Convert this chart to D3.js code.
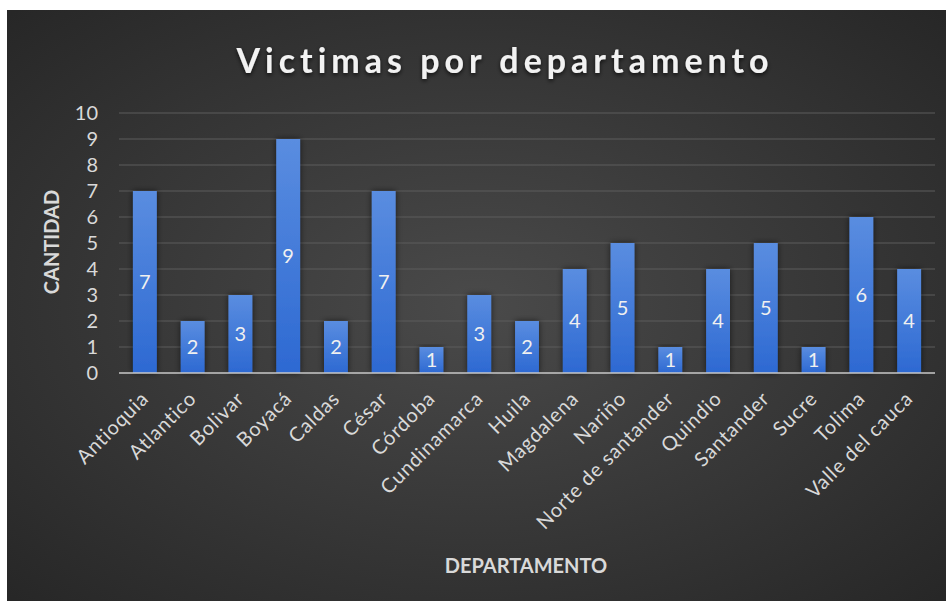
<!DOCTYPE html>
<html>
<head>
<meta charset="utf-8">
<script src="https://cdnjs.cloudflare.com/ajax/libs/d3/7.8.5/d3.min.js"></script>
<style>
  html, body { margin: 0; padding: 0; background: #ffffff; }
  svg { display: block; }
</style>
</head>
<body>
<svg id="chart" width="946" height="601"></svg>
<script>
const categories = ["Antioquia", "Atlantico", "Bolivar", "Boyacá", "Caldas", "César", "Córdoba", "Cundinamarca", "Huila", "Magdalena", "Nariño", "Norte de santander", "Quindio", "Santander", "Sucre", "Tolima", "Valle del cauca"];
const values = [7, 2, 3, 9, 2, 7, 1, 3, 2, 4, 5, 1, 4, 5, 1, 6, 4];
const yTicks = [0, 1, 2, 3, 4, 5, 6, 7, 8, 9, 10];
const titleText = "Victimas por departamento";
const xTitle = "DEPARTAMENTO";
const yTitle = "CANTIDAD";

const svg = d3.select("#chart");
const W = 946, H = 601;
const font = "Lato, 'Open Sans', sans-serif";

const defs = svg.append("defs");
const bg = defs.append("radialGradient").attr("id", "bg")
  .attr("cx", "50%").attr("cy", "50%").attr("r", "70%");
bg.append("stop").attr("offset", "0%").attr("stop-color", "#4a4a4a");
bg.append("stop").attr("offset", "100%").attr("stop-color", "#272727");

const barGrad = defs.append("linearGradient").attr("id", "barGrad")
  .attr("x1", 0).attr("y1", 0).attr("x2", 0).attr("y2", 1);
barGrad.append("stop").attr("offset", "0%").attr("stop-color", "#5a8de0");
barGrad.append("stop").attr("offset", "100%").attr("stop-color", "#2d69d2");

const shadow = defs.append("filter").attr("id", "shadow")
  .attr("x", "-30%").attr("y", "-30%").attr("width", "160%").attr("height", "160%");
shadow.append("feDropShadow").attr("dx", 0).attr("dy", 2).attr("stdDeviation", 2)
  .attr("flood-color", "#000").attr("flood-opacity", 0.7);

const barShadow = defs.append("filter").attr("id", "barShadow")
  .attr("x", "-50%").attr("y", "-10%").attr("width", "200%").attr("height", "120%");
barShadow.append("feDropShadow").attr("dx", 0).attr("dy", 0).attr("stdDeviation", 3)
  .attr("flood-color", "#000").attr("flood-opacity", 0.6);

svg.append("rect").attr("x", 7).attr("y", 10).attr("width", W - 7).attr("height", H - 10)
  .attr("fill", "url(#bg)");

const x = d3.scaleBand().domain(categories).range([121, 933]).paddingInner(0.5).paddingOuter(0.25);
const y = d3.scaleLinear().domain([0, 10]).range([373, 113]);

// gridlines
svg.append("g").selectAll("line").data(yTicks.filter(t => t > 0)).join("line")
  .attr("x1", 119).attr("x2", 935)
  .attr("y1", d => y(d)).attr("y2", d => y(d))
  .attr("stroke", "#5c5c5c").attr("stroke-width", 1.2);

// y tick labels
svg.append("g").selectAll("text").data(yTicks).join("text")
  .attr("x", 98).attr("y", d => y(d)).attr("dy", "0.36em")
  .attr("text-anchor", "end")
  .attr("font-family", font).attr("font-size", 20)
  .attr("fill", "#d9d9d9").text(d => d);

// bars
svg.append("g").selectAll("rect").data(values).join("rect")
  .attr("x", (d, i) => x(categories[i]))
  .attr("y", d => y(d))
  .attr("width", x.bandwidth())
  .attr("height", d => y(0) - y(d))
  .attr("fill", "url(#barGrad)")
  .attr("filter", "url(#barShadow)");

// baseline
svg.append("line").attr("x1", 119).attr("x2", 935).attr("y1", y(0)).attr("y2", y(0))
  .attr("stroke", "#c8c8c8").attr("stroke-width", 1.5);

// data labels
svg.append("g").selectAll("text").data(values).join("text")
  .attr("x", (d, i) => x(categories[i]) + x.bandwidth() / 2)
  .attr("y", d => (y(d) + y(0)) / 2).attr("dy", "0.36em")
  .attr("text-anchor", "middle")
  .attr("font-family", font).attr("font-size", 20)
  .attr("fill", "#f0f0f0").text(d => d);

// category labels
svg.append("g").selectAll("text").data(categories).join("text")
  .attr("transform", d => `translate(${x(d) + x.bandwidth() / 2 + 5},${400}) rotate(-45)`)
  .attr("text-anchor", "end")
  .attr("font-family", font).attr("font-size", 20)
  .attr("letter-spacing", 0.8)
  .attr("fill", "#d9d9d9").text(d => d);

// title
svg.append("text").attr("x", 505).attr("y", 73).attr("text-anchor", "middle")
  .attr("font-family", font).attr("font-size", 34).attr("font-weight", "bold")
  .attr("letter-spacing", 5)
  .attr("fill", "#f2f2f2").attr("filter", "url(#shadow)").text(titleText);

// axis titles
svg.append("text").attr("x", 526).attr("y", 573).attr("text-anchor", "middle")
  .attr("font-family", font).attr("font-size", 20).attr("font-weight", "bold")
  .attr("fill", "#d9d9d9").text(xTitle);

svg.append("text").attr("transform", "translate(59,242) rotate(-90)").attr("text-anchor", "middle")
  .attr("font-family", font).attr("font-size", 20).attr("font-weight", "bold")
  .attr("fill", "#d9d9d9").text(yTitle);
</script>
</body>
</html>
